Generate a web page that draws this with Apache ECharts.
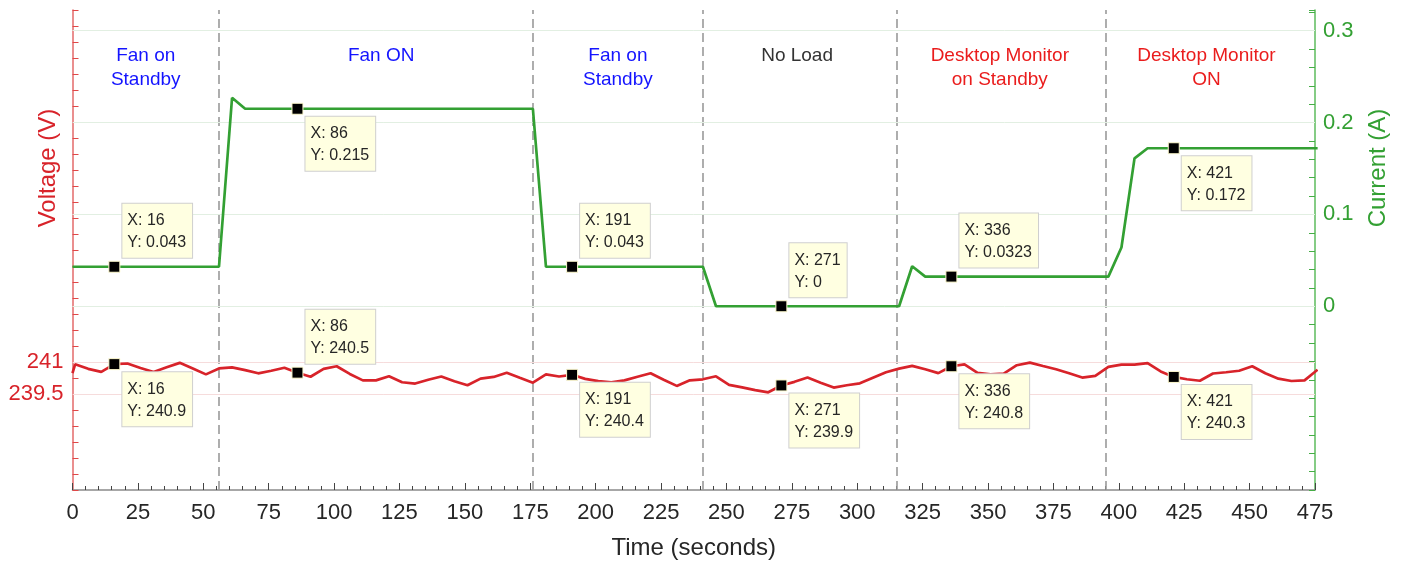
<!DOCTYPE html>
<html>
<head>
<meta charset="utf-8">
<script src="https://cdn.jsdelivr.net/npm/echarts@6/dist/echarts.min.js"></script>
<style>html,body{margin:0;padding:0;background:#fff}#c{width:1407px;height:562px}</style>
</head>
<body>
<div id="c"></div>
<script>
// ---------------- data ----------------
const timeSec = [0,1,6,11,16,21,26,31,36,41,46,51,56,61,66,71,76,81,86,91,96,101,106,111,116,121,126,131,136,141,146,151,156,161,166,171,176,181,186,191,196,201,206,211,216,221,226,231,236,241,246,251,256,261,266,271,276,281,286,291,296,301,306,311,316,321,326,331,336,341,346,351,356,361,366,371,376,381,386,391,396,401,406,411,416,421,426,431,436,441,446,451,456,461,466,471,476];

const voltage = [240.48,240.89,240.68,240.54,240.9,240.93,240.72,240.53,240.75,240.96,240.70,240.42,240.70,240.75,240.62,240.47,240.59,240.73,240.5,240.31,240.68,240.80,240.44,240.14,240.14,240.33,240.05,239.99,240.17,240.32,240.10,239.91,240.22,240.30,240.50,240.26,240.03,240.42,240.32,240.4,240.21,240.10,240.05,240.14,240.31,240.47,240.17,239.88,240.14,240.19,240.33,239.93,239.81,239.68,239.58,239.9,240.07,240.27,240.03,239.80,239.91,240.00,240.26,240.52,240.69,240.82,240.66,240.48,240.8,240.89,240.49,240.42,240.46,240.85,240.97,240.81,240.66,240.47,240.27,240.35,240.77,240.88,240.88,240.95,240.56,240.3,240.19,240.12,240.46,240.52,240.59,240.80,240.47,240.22,240.11,240.14,240.64];

const current = [0.043,0.043,0.043,0.043,0.043,0.043,0.043,0.043,0.043,0.043,0.043,0.043,0.043,
  0.227,
  0.215,0.215,0.215,0.215,0.215,0.215,0.215,0.215,0.215,0.215,0.215,0.215,0.215,0.215,0.215,0.215,0.215,0.215,0.215,0.215,0.215,0.215,0.215,
  0.043,0.043,0.043,0.043,0.043,0.043,0.043,0.043,0.043,0.043,0.043,0.043,0.043,
  0,0,0,0,0,0,0,0,0,0,0,0,0,0,0,
  0.0436,
  0.0323,0.0323,0.0323,0.0323,0.0323,0.0323,0.0323,0.0323,0.0323,0.0323,0.0323,0.0323,0.0323,0.0323,0.0323,
  0.064,0.161,
  0.172,0.172,0.172,0.172,0.172,0.172,0.172,0.172,0.172,0.172,0.172,0.172,0.172,0.172];

const dividerTimes = [56,176,241,315,395];
const regionNames = ['Fan on\nStandby','Fan ON','Fan on\nStandby','No Load','Desktop Monitor\non Standby','Desktop Monitor\nON'];
const regionCenters = [28,118,208.5,277,354.5,433.5];
const regionLevel = 0.286;            // on current axis
const xTickLabels = [0,25,50,75,100,125,150,175,200,225,250,275,300,325,350,375,400,425,450,475];
const voltageTickLabels = [239.5,241];
const currentTickLabels = [0,0.1,0.2,0.3];
const tipTimes = [16,86,191,271,336,421];

// ---------------- style config ----------------
const RED = '#d8232a', GREEN = '#33a033';
const FONT = '"Liberation Sans", Arial, Helvetica, sans-serif';
const regionColors = ['#1414ff','#1414ff','#1414ff','#333333','#ea1c1c','#ea1c1c'];
const tipSides = {
  current: ['up','down','up','up','up','down'],
  voltage: ['down','up','down','down','down','down']
};

function near(v, list){ return list.some(t => Math.abs(t - v) < 1e-6); }

function tipData(values, sides){
  return tipTimes.map((t, i) => {
    const v = values[timeSec.indexOf(t)];
    const up = sides[i] === 'up';
    return {
      coord: [t, v],
      value: v,
      label: {
        formatter: 'X: ' + t + '\nY: ' + v,
        position: up ? [14, -3] : [14, 14],
        verticalAlign: up ? 'bottom' : 'top'
      }
    };
  });
}

const tipCommon = {
  silent: true,
  symbol: 'rect',
  symbolSize: 11,
  itemStyle: { color: '#000', borderColor: '#fffbd0', borderWidth: 1 },
  label: {
    show: true, align: 'left', color: '#262626', fontSize: 16, lineHeight: 22,
    fontFamily: FONT, backgroundColor: '#ffffe1', borderColor: '#cfcfcf',
    borderWidth: 1, padding: [6, 6, 4, 5]
  }
};

const vPairs = timeSec.map((t, i) => [t, voltage[i]]);
const cPairs = timeSec.map((t, i) => [t, current[i]]);

const chart = echarts.init(document.getElementById('c'));
chart.setOption({
  animation: false,
  backgroundColor: '#fff',
  textStyle: { fontFamily: FONT },
  grid: { left: 72.5, right: 92, top: 10, bottom: 72, containLabel: false, outerBoundsMode: 'none' },
  xAxis: {
    type: 'value', min: 0, max: 475, interval: 25,
    name: 'Time (seconds)', nameLocation: 'middle', nameGap: 46, nameMoveOverlap: false,
    nameTextStyle: { fontSize: 24, color: '#262626', fontFamily: FONT },
    axisLine: { onZero: false, lineStyle: { color: '#8a8a8a', width: 1.5 } },
    axisTick: { inside: true, length: 7, lineStyle: { color: '#444', width: 1 } },
    minorTick: { show: true, splitNumber: 5, length: 4, lineStyle: { color: '#444', width: 1 } },
    axisLabel: { fontSize: 22, color: '#262626', margin: 12, fontFamily: FONT,
      formatter: v => near(v, xTickLabels) ? String(v) : '' },
    splitLine: { show: false }
  },
  yAxis: [
    {
      type: 'value', position: 'left', min: 235, max: 257.5, interval: 0.75,
      name: 'Voltage (V)', nameLocation: 'middle', nameGap: 12, nameMoveOverlap: false,
      nameTextStyle: { fontSize: 24, color: RED, fontFamily: FONT, padding: [0, 0, 0, 164] },
      axisLine: { show: true, onZero: false, lineStyle: { color: '#e36a6a', width: 1.5 } },
      axisTick: { show: true, inside: true, length: 6, lineStyle: { color: '#e04848', width: 1 } },
      axisLabel: { fontSize: 22, color: RED, margin: 9, fontFamily: FONT,
        formatter: v => near(v, voltageTickLabels) ? String(Math.round(v * 10) / 10) : '' },
      splitLine: { show: false }
    },
    {
      type: 'value', position: 'right', min: -0.2, max: 0.3225, interval: 0.02,
      name: 'Current (A)', nameLocation: 'middle', nameGap: 51, nameMoveOverlap: false,
      nameTextStyle: { fontSize: 24, color: GREEN, fontFamily: FONT, padding: [0, 0, 0, 164] },
      axisLine: { show: true, onZero: false, lineStyle: { color: '#5cbb5c', width: 1.5 } },
      axisTick: { show: true, inside: true, length: 6, lineStyle: { color: '#45ad45', width: 1 } },
      axisLabel: { fontSize: 22, color: GREEN, margin: 8, fontFamily: FONT,
        formatter: v => near(v, currentTickLabels) ? String(Math.round(v * 10) / 10) : '' },
      splitLine: { show: false }
    }
  ],
  series: [
    {
      name: 'Voltage', type: 'line', yAxisIndex: 0, data: vPairs,
      showSymbol: false, symbol: 'none', silent: true, z: 3,
      lineStyle: { color: RED, width: 2.7 },
      markLine: {
        silent: true, z: 1, symbol: ['none', 'none'], label: { show: false },
        data: dividerTimes.map(x => ({ xAxis: x, lineStyle: { color: '#9a9a9a', width: 1.6, type: [9, 5] } }))
          .concat(voltageTickLabels.map(v => ({ yAxis: v, lineStyle: { color: '#f6dcdc', width: 1, type: 'solid' } })))
      },
      markPoint: Object.assign({ data: tipData(voltage, tipSides.voltage) }, tipCommon)
    },
    {
      name: 'Current', type: 'line', yAxisIndex: 1, data: cPairs,
      showSymbol: false, symbol: 'none', silent: true, z: 3,
      lineStyle: { color: GREEN, width: 2.7 },
      markLine: {
        silent: true, z: 1, symbol: ['none', 'none'], label: { show: false },
        data: currentTickLabels.map(v => ({ yAxis: v, lineStyle: { color: '#e2efe2', width: 1, type: 'solid' } }))
      },
      markPoint: Object.assign({ data: tipData(current, tipSides.current) }, tipCommon)
    },
    {
      name: 'Regions', type: 'scatter', yAxisIndex: 1, silent: true,
      symbolSize: 1, itemStyle: { color: 'rgba(0,0,0,0)', opacity: 1 },
      data: regionCenters.map((x, i) => ({ value: [x, regionLevel], label: { color: regionColors[i] } })),
      label: {
        show: true, position: [0.5, 0.5], align: 'center', verticalAlign: 'top',
        fontSize: 19, lineHeight: 24, fontFamily: FONT,
        formatter: p => regionNames[p.dataIndex]
      }
    }
  ]
});
</script>
</body>
</html>
